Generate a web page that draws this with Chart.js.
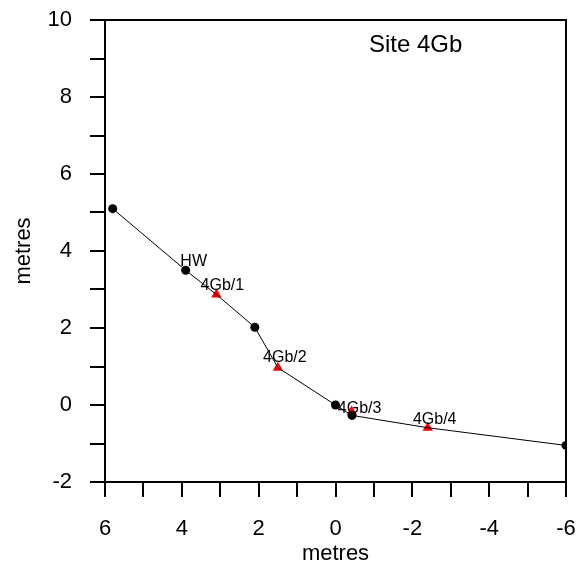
<!DOCTYPE html>
<html>
<head>
<meta charset="utf-8">
<script src="https://cdn.jsdelivr.net/npm/chart.js@4/dist/chart.umd.min.js"></script>
<style>
  html, body { margin: 0; padding: 0; background: #fff; }
  #wrap { width: 587px; height: 571px; }
</style>
</head>
<body>
<div id="wrap"><canvas id="profile"></canvas></div>
<script>
// profile line, in order along the transect
const lineX = [5.8, 3.9, 3.1, 2.1, 1.5, 0.0, -0.43, -2.4, -6.0];
const lineY = [5.1, 3.5, 2.87, 2.02, 0.97, 0.0, -0.27, -0.59, -1.05];

// surveyed stations (black dots)
const stationX = [5.8, 3.9, 2.1, 0.0, -0.43, -6.0];
const stationY = [5.1, 3.5, 2.02, 0.0, -0.27, -1.05];
const stationLabels = ["", "HW", "", "", "", ""];

// sample sites (red triangles)
const sampleX = [3.1, 1.5, -0.42, -2.4];
const sampleY = [2.87, 0.97, -0.17, -0.59];
const sampleLabels = ["4Gb/1", "4Gb/2", "4Gb/3", "4Gb/4"];

const FONT = "Arial, 'Liberation Sans', sans-serif";

const toPoints = (xs, ys) => xs.map((x, i) => ({ x: x, y: ys[i] }));

// fixed axis boxes so the plot frame sits where the original one does
function fixBox(size, key) {
  return (s) => {
    s[key] = size;
    s.paddingTop = 0;
    s.paddingBottom = 0;
    s.paddingLeft = 0;
    s.paddingRight = 0;
  };
}

const frame = {
  id: "frame",
  afterDraw(chart) {
    const { ctx, chartArea: a } = chart;
    ctx.save();
    ctx.strokeStyle = "#000";
    ctx.lineWidth = 2;
    ctx.strokeRect(a.left, a.top, a.right - a.left, a.bottom - a.top);
    ctx.fillStyle = "#000";
    ctx.font = "24px " + FONT;
    ctx.textAlign = "left";
    ctx.textBaseline = "middle";
    ctx.fillText("Site 4Gb", 369, 45);
    ctx.restore();
  },
};

const pointLabels = {
  id: "pointLabels",
  afterDatasetsDraw(chart) {
    const { ctx } = chart;
    ctx.save();
    ctx.fillStyle = "#000";
    ctx.font = "16px " + FONT;
    ctx.textBaseline = "middle";
    ctx.textAlign = "center";
    chart.data.datasets.forEach((ds, i) => {
      if (!ds.pointLabels) return;
      chart.getDatasetMeta(i).data.forEach((el, j) => {
        const txt = ds.pointLabels[j];
        if (!txt) return;
        const off = ds.labelOffsets ? ds.labelOffsets[j] : [7, -9];
        ctx.fillText(txt, el.x + off[0], el.y + off[1]);
      });
    });
    ctx.restore();
  },
};

new Chart(document.getElementById("profile"), {
  type: "scatter",
  data: {
    datasets: [
      {
        label: "profile",
        data: toPoints(lineX, lineY),
        showLine: true,
        borderColor: "#000",
        borderWidth: 1,
        pointRadius: 0,
        fill: false,
      },
      {
        label: "stations",
        data: toPoints(stationX, stationY),
        pointRadius: 4.5,
        pointBackgroundColor: "#000",
        pointBorderColor: "#000",
        pointBorderWidth: 0,
        pointLabels: stationLabels,
        labelOffsets: [[0, 0], [8, -9], [0, 0], [0, 0], [0, 0], [0, 0]],
      },
      {
        label: "samples",
        data: toPoints(sampleX, sampleY),
        pointStyle: "triangle",
        pointRadius: 6,
        pointBackgroundColor: "#ff0000",
        pointBorderColor: "#ff0000",
        pointBorderWidth: 0,
        pointLabels: sampleLabels,
        labelOffsets: [[6, -9], [7, -10], [8, -3], [7, -8]],
      },
    ],
  },
  options: {
    responsive: true,
    maintainAspectRatio: false,
    animation: false,
    layout: { padding: { top: 20, right: 21, left: 0, bottom: 0 } },
    plugins: {
      legend: { display: false },
      tooltip: { enabled: false },
    },
    scales: {
      x: {
        type: "linear",
        reverse: true,
        min: -6,
        max: 6,
        afterFit: fixBox(89, "height"),
        border: { display: true, color: "#000", width: 2 },
        grid: {
          drawOnChartArea: false,
          drawTicks: true,
          tickLength: 15,
          color: "#000",
          lineWidth: 2,
        },
        ticks: {
          stepSize: 1,
          autoSkip: false,
          maxRotation: 0,
          padding: 19,
          color: "#000",
          font: { family: FONT, size: 22 },
          callback: (v) => (v % 2 === 0 ? String(v) : ""),
        },
        title: {
          display: true,
          text: "metres",
          color: "#000",
          font: { family: FONT, size: 22 },
          padding: { top: 0, bottom: 4 },
        },
      },
      y: {
        type: "linear",
        min: -2,
        max: 10,
        afterFit: fixBox(105, "width"),
        border: { display: true, color: "#000", width: 2 },
        grid: {
          drawOnChartArea: false,
          drawTicks: true,
          tickLength: 15,
          color: "#000",
          lineWidth: 2,
        },
        ticks: {
          stepSize: 1,
          autoSkip: false,
          padding: 18,
          color: "#000",
          font: { family: FONT, size: 22 },
          callback: (v) => (v % 2 === 0 ? String(v) : ""),
        },
        title: {
          display: true,
          text: "metres",
          color: "#000",
          font: { family: FONT, size: 22 },
          padding: { top: 11, bottom: 0 },
        },
      },
    },
  },
  plugins: [frame, pointLabels],
});
</script>
</body>
</html>
